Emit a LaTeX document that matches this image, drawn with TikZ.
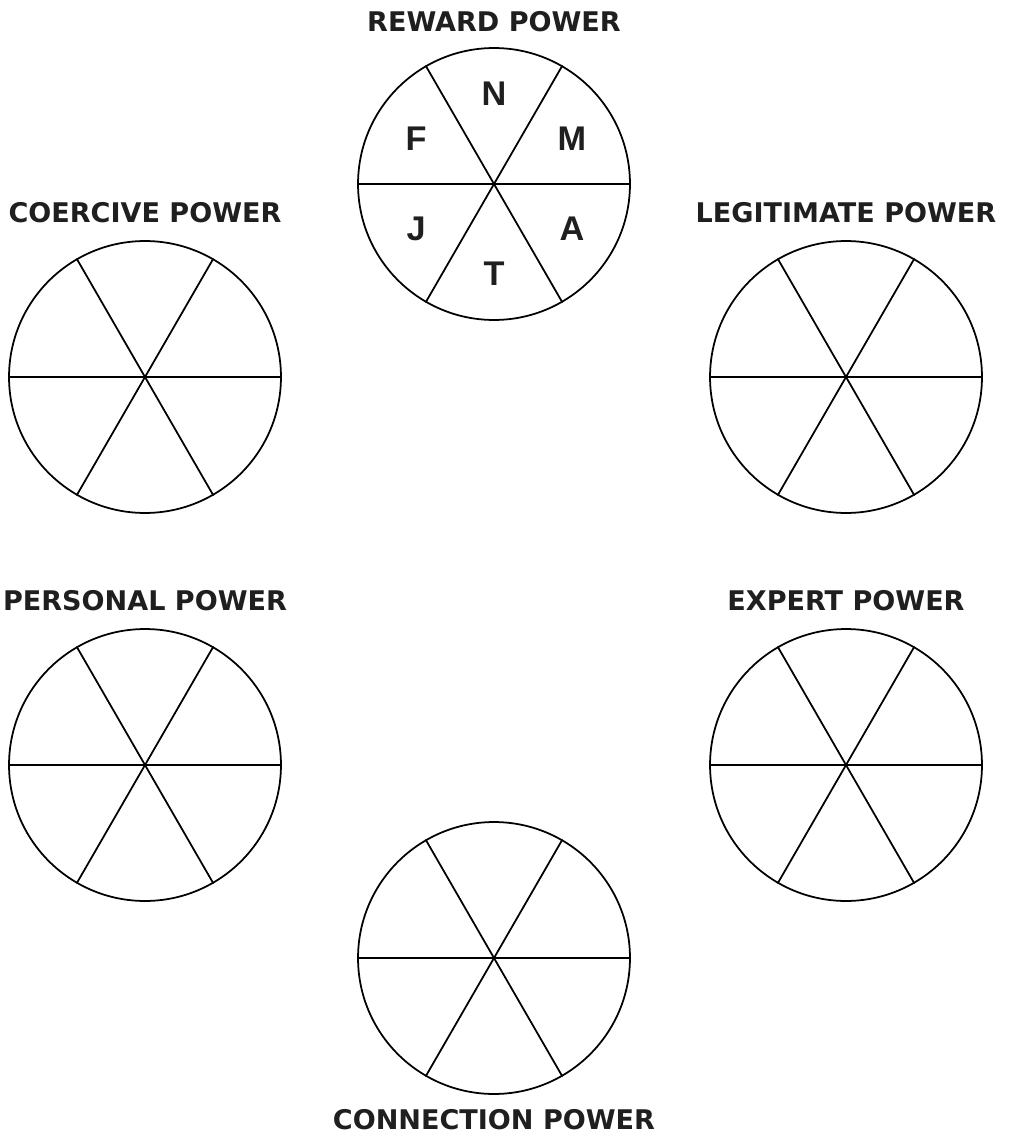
\documentclass[tikz,border=0pt]{standalone}
\usepackage{fontspec}
\usepackage{tikz}
\usetikzlibrary{positioning}
\newfontfamily\titlefont{DejaVu Sans}
\newfontfamily\letterfont{Liberation Sans}

\begin{document}
\begin{tikzpicture}[
  x=0.02cm, y=0.02cm,
  wheel/.style = {circle, draw, line width=1pt, inner sep=0pt,
                  minimum size=5.44cm},
  spoke/.style = {line width=1pt},
  title/.style = {font=\titlefont\bfseries\fontsize{15.4}{17}\selectfont,
                  text=black!88, inner sep=0pt},
  letter/.style = {font=\letterfont\bfseries\fontsize{19.5}{21}\selectfont,
                   text=black!88, inner sep=0pt}
]
  \useasboundingbox (0,0) rectangle (1008,-1135);

  % the six wheels
  \node[wheel] (reward)     at (494,-184) {};
  \node[wheel] (coercive)   at (145,-377) {};
  \node[wheel] (legitimate) at (846,-377) {};
  \node[wheel] (personal)   at (145,-765) {};
  \node[wheel] (expert)     at (846,-765) {};
  \node[wheel] (connection) at (494,-958) {};

  % titles
  \node[title] (rewardT)     at (494,-22)   {REWARD POWER};
  \node[title] (coerciveT)   at (145,-213)  {COERCIVE POWER};
  \node[title] (legitimateT) at (846,-213)  {LEGITIMATE POWER};
  \node[title] (personalT)   at (145,-601)  {PERSONAL POWER};
  \node[title] (expertT)     at (846,-601)  {EXPERT POWER};
  \node[title] (connectionT) at (494,-1120) {CONNECTION POWER};

  % spokes
  \foreach \w in {reward, coercive, legitimate, personal, expert, connection} {
    \draw[spoke] (\w.0)   -- (\w.180);
    \draw[spoke] (\w.60)  -- (\w.240);
    \draw[spoke] (\w.120) -- (\w.300);
  }

  % letters in the reward wheel
  \foreach \a/\t in {90/N, 30/M, 150/F, 210/J, 330/A, 270/T}
    \node[letter] (rew\t) at ([shift={(\a:90)}]reward.center) {\t};
\end{tikzpicture}
\end{document}
